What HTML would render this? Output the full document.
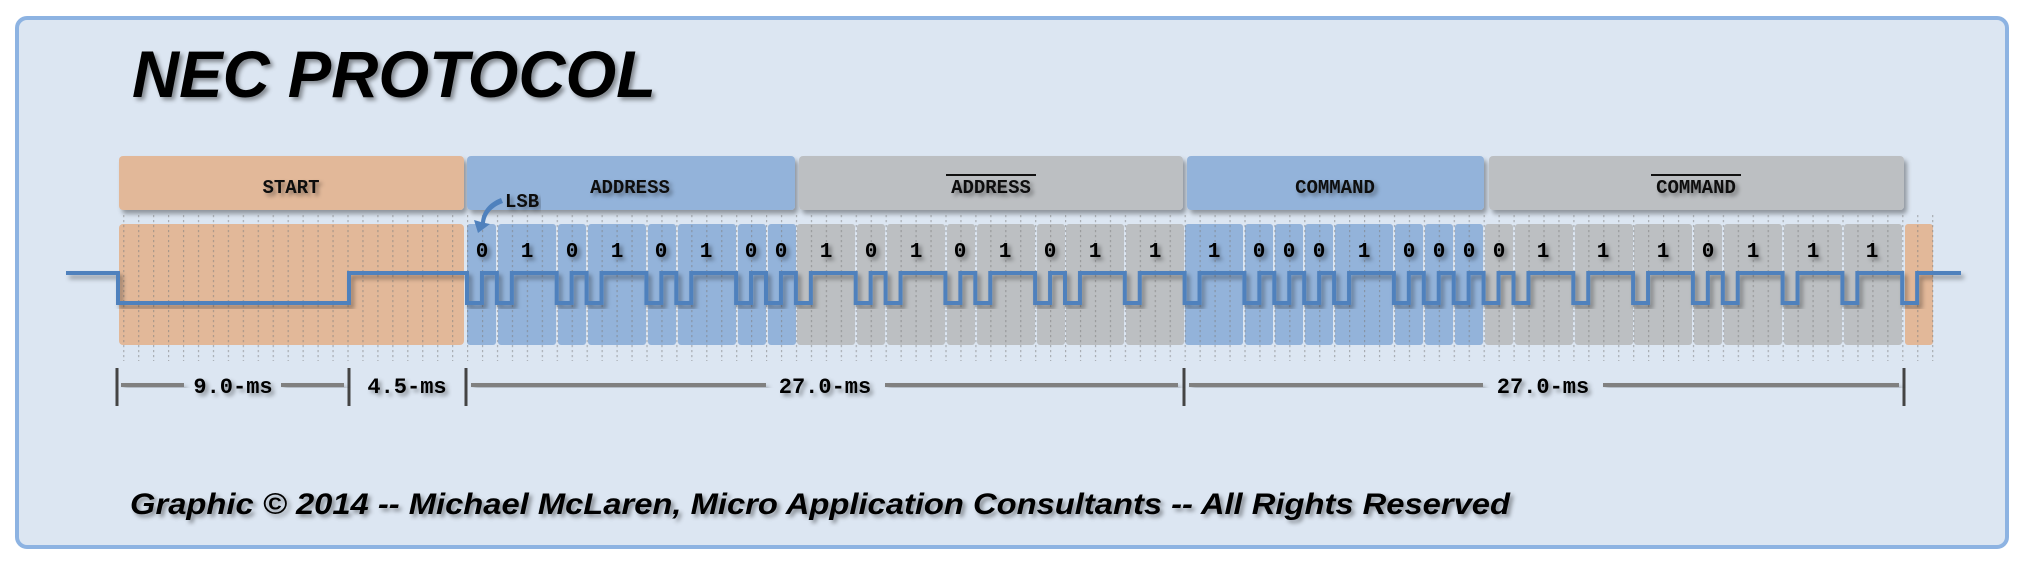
<!DOCTYPE html>
<html><head><meta charset="utf-8"><style>html,body{margin:0;padding:0;background:#fff}svg{display:block}</style></head>
<body>
<svg width="2023" height="563" viewBox="0 0 2023 563" xmlns="http://www.w3.org/2000/svg">
<defs>
<filter id="sh" x="-5%" y="-20%" width="110%" height="140%"><feDropShadow dx="3" dy="4" stdDeviation="2.5" flood-color="#000" flood-opacity="0.35"/></filter>
<filter id="ts" x="-5%" y="-20%" width="110%" height="150%"><feDropShadow dx="3" dy="3" stdDeviation="2" flood-color="#000" flood-opacity="0.4"/></filter>
<pattern id="grid" x="467" y="0" width="14.95" height="5" patternUnits="userSpaceOnUse"><rect x="0" y="0" width="1.2" height="2.2" fill="#7d7d7d"/></pattern>
</defs>
<rect x="17" y="18" width="1990" height="529" rx="10" fill="#dce6f2" stroke="#8db3e2" stroke-width="4"/>
<text x="132" y="97" font-family="Liberation Sans, sans-serif" font-weight="bold" font-style="italic" font-size="66" textLength="524" lengthAdjust="spacingAndGlyphs" fill="#000" filter="url(#ts)">NEC PROTOCOL</text>

<g filter="url(#sh)">
<rect x="119" y="156" width="345" height="54" rx="4" fill="#e2b899"/>
<rect x="467" y="156" width="328" height="54" rx="4" fill="#93b3da"/>
<rect x="799" y="156" width="384" height="54" rx="4" fill="#bcbfc2"/>
<rect x="1187" y="156" width="297" height="54" rx="4" fill="#93b3da"/>
<rect x="1489" y="156" width="415" height="54" rx="4" fill="#bcbfc2"/>
</g>
<g font-family="Liberation Mono, monospace" font-weight="bold" font-size="19" fill="#111" text-anchor="middle" filter="url(#ts)">
<text x="291" y="193">START</text>
<text x="630" y="193">ADDRESS</text>
<text x="991" y="193">ADDRESS</text>
<text x="1335" y="193">COMMAND</text>
<text x="1696" y="193">COMMAND</text>
</g>
<line x1="946" y1="175" x2="1036" y2="175" stroke="#111" stroke-width="2"/>
<line x1="1651" y1="175" x2="1741" y2="175" stroke="#111" stroke-width="2"/>

<g>
<rect x="119" y="224" width="345" height="121" rx="4" fill="#e2b899"/>
<g fill="#93b3da">
<rect x="467" y="224" width="29" height="121" rx="3"/>
<rect x="498" y="224" width="58" height="121" rx="3"/>
<rect x="558" y="224" width="28" height="121" rx="3"/>
<rect x="588" y="224" width="58" height="121" rx="3"/>
<rect x="648" y="224" width="28" height="121" rx="3"/>
<rect x="678" y="224" width="58" height="121" rx="3"/>
<rect x="738" y="224" width="28" height="121" rx="3"/>
<rect x="768" y="224" width="28" height="121" rx="3"/>
<rect x="1185" y="224" width="58" height="121" rx="3"/>
<rect x="1245" y="224" width="28" height="121" rx="3"/>
<rect x="1275" y="224" width="28" height="121" rx="3"/>
<rect x="1305" y="224" width="28" height="121" rx="3"/>
<rect x="1335" y="224" width="58" height="121" rx="3"/>
<rect x="1395" y="224" width="28" height="121" rx="3"/>
<rect x="1425" y="224" width="28" height="121" rx="3"/>
<rect x="1455" y="224" width="28" height="121" rx="3"/>
</g>
<g fill="#bcbfc2">
<rect x="797" y="224" width="58" height="121" rx="3"/>
<rect x="857" y="224" width="28" height="121" rx="3"/>
<rect x="887" y="224" width="58" height="121" rx="3"/>
<rect x="947" y="224" width="28" height="121" rx="3"/>
<rect x="977" y="224" width="58" height="121" rx="3"/>
<rect x="1037" y="224" width="28" height="121" rx="3"/>
<rect x="1066" y="224" width="58" height="121" rx="3"/>
<rect x="1126" y="224" width="58" height="121" rx="3"/>
<rect x="1485" y="224" width="28" height="121" rx="3"/>
<rect x="1515" y="224" width="58" height="121" rx="3"/>
<rect x="1575" y="224" width="58" height="121" rx="3"/>
<rect x="1634" y="224" width="58" height="121" rx="3"/>
<rect x="1694" y="224" width="28" height="121" rx="3"/>
<rect x="1724" y="224" width="58" height="121" rx="3"/>
<rect x="1784" y="224" width="58" height="121" rx="3"/>
<rect x="1844" y="224" width="58" height="121" rx="3"/>
</g>
<rect x="1905" y="224" width="28" height="121" rx="3" fill="#e2b899"/>
</g>
<rect x="115" y="214" width="1820" height="147" fill="url(#grid)" opacity="0.55"/>

<path filter="url(#sh)" fill="none" stroke="#4f81bd" stroke-width="4" stroke-linejoin="miter" d="M66 273 H118 V303 H349 V273 H467
v30 h14.95 v-30 h14.95
v30 h14.95 v-30 h44.85
v30 h14.95 v-30 h14.95
v30 h14.95 v-30 h44.85
v30 h14.95 v-30 h14.95
v30 h14.95 v-30 h44.85
v30 h14.95 v-30 h14.95
v30 h14.95 v-30 h14.95
v30 h14.95 v-30 h44.85
v30 h14.95 v-30 h14.95
v30 h14.95 v-30 h44.85
v30 h14.95 v-30 h14.95
v30 h14.95 v-30 h44.85
v30 h14.95 v-30 h14.95
v30 h14.95 v-30 h44.85
v30 h14.95 v-30 h44.85
v30 h14.95 v-30 h44.85
v30 h14.95 v-30 h14.95
v30 h14.95 v-30 h14.95
v30 h14.95 v-30 h14.95
v30 h14.95 v-30 h44.85
v30 h14.95 v-30 h14.95
v30 h14.95 v-30 h14.95
v30 h14.95 v-30 h14.95
v30 h14.95 v-30 h14.95
v30 h14.95 v-30 h44.85
v30 h14.95 v-30 h44.85
v30 h14.95 v-30 h44.85
v30 h14.95 v-30 h14.95
v30 h14.95 v-30 h44.85
v30 h14.95 v-30 h44.85
v30 h14.95 v-30 h44.85
v30 h14.95 v-30 H1961"/>

<g font-family="Liberation Mono, monospace" font-weight="bold" font-size="21" fill="#000" text-anchor="middle" filter="url(#ts)">
<text x="482" y="257">0</text><text x="527" y="257">1</text><text x="572" y="257">0</text><text x="617" y="257">1</text>
<text x="661" y="257">0</text><text x="706" y="257">1</text><text x="751" y="257">0</text><text x="781" y="257">0</text>
<text x="826" y="257">1</text><text x="871" y="257">0</text><text x="916" y="257">1</text><text x="960" y="257">0</text>
<text x="1005" y="257">1</text><text x="1050" y="257">0</text><text x="1095" y="257">1</text><text x="1155" y="257">1</text>
<text x="1214" y="257">1</text><text x="1259" y="257">0</text><text x="1289" y="257">0</text><text x="1319" y="257">0</text>
<text x="1364" y="257">1</text><text x="1409" y="257">0</text><text x="1439" y="257">0</text><text x="1469" y="257">0</text>
<text x="1499" y="257">0</text><text x="1543" y="257">1</text><text x="1603" y="257">1</text><text x="1663" y="257">1</text>
<text x="1708" y="257">0</text><text x="1753" y="257">1</text><text x="1813" y="257">1</text><text x="1872" y="257">1</text>
</g>

<text x="505" y="207" font-family="Liberation Mono, monospace" font-weight="bold" font-size="19" fill="#111" filter="url(#ts)">LSB</text>
<path d="M501 198 C488 203 482 212 481 222 L474 220 L478 233 L490 224 L485 223 C486 214 492 207 503 203 Z" fill="#4f81bd"/>

<g fill="#444">
<rect x="115.5" y="368" width="3" height="38"/>
<rect x="347.5" y="368" width="3" height="38"/>
<rect x="464.5" y="368" width="3" height="38"/>
<rect x="1182.5" y="368" width="3" height="38"/>
<rect x="1902.5" y="368" width="3" height="38"/>
</g>
<g fill="#808080" filter="url(#sh)">
<rect x="121" y="383" width="63" height="4"/>
<rect x="281" y="383" width="63" height="4"/>
<rect x="471" y="383" width="295" height="4"/>
<rect x="885" y="383" width="293" height="4"/>
<rect x="1189" y="383" width="294" height="4"/>
<rect x="1603" y="383" width="296" height="4"/>
</g>
<g font-family="Liberation Mono, monospace" font-weight="bold" font-size="22" fill="#000" text-anchor="middle" filter="url(#ts)">
<text x="233" y="393">9.0-ms</text>
<text x="407" y="393">4.5-ms</text>
<text x="825" y="393">27.0-ms</text>
<text x="1543" y="393">27.0-ms</text>
</g>

<text x="130" y="514" font-family="Liberation Sans, sans-serif" font-weight="bold" font-style="italic" font-size="30" textLength="1380" lengthAdjust="spacingAndGlyphs" fill="#000" filter="url(#ts)">Graphic © 2014 -- Michael McLaren, Micro Application Consultants -- All Rights Reserved</text>
</svg>
</body></html>
